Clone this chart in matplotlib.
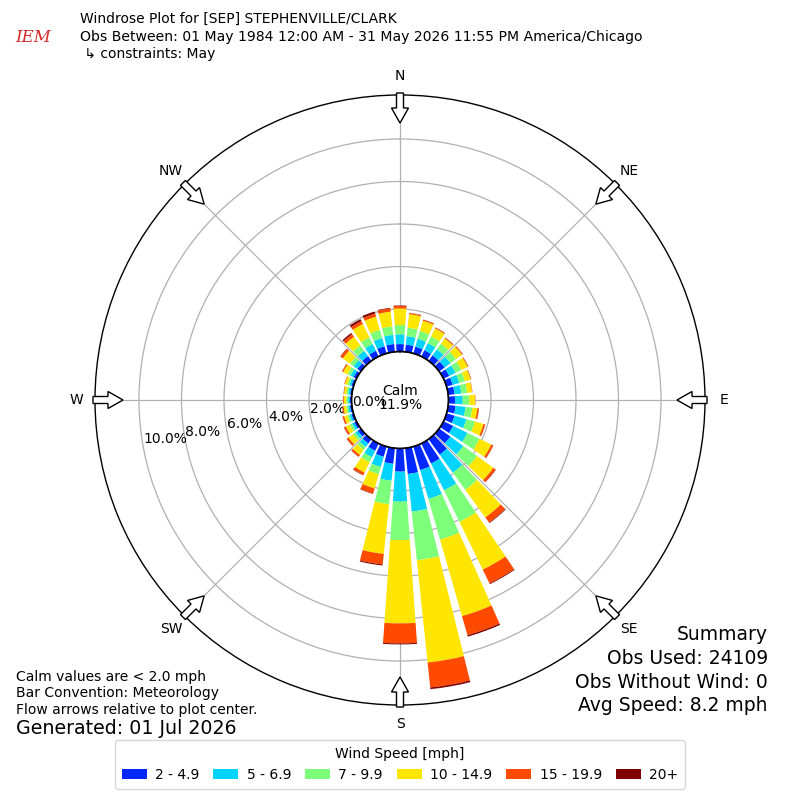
import numpy as np
import matplotlib.pyplot as plt
from matplotlib.patches import FancyArrow, Patch

# wind directions (deg, meteorological) and speed bins
directions = np.arange(0, 360, 10)
speed_bins = ['2 - 4.9', '5 - 6.9', '7 - 9.9', '10 - 14.9', '15 - 19.9', '20+']
bin_colors = ['#0028ff', '#00d4ff', '#7cff79', '#ffe600', '#ff4a00', '#800000']

# frequency (%) per direction for each speed bin
freq_2_5 = [0.35, 0.34, 0.33, 0.33, 0.32, 0.32, 0.30, 0.30, 0.30, 0.31, 0.35, 0.39,
            0.50, 0.65, 0.90, 1.05, 1.15, 1.22, 1.09, 0.74, 0.50, 0.38, 0.25, 0.18,
            0.12, 0.10, 0.09, 0.08, 0.08, 0.10, 0.15, 0.20, 0.28, 0.30, 0.35, 0.37]
freq_5_7 = [0.46, 0.40, 0.39, 0.37, 0.35, 0.34, 0.33, 0.32, 0.32, 0.36, 0.47, 0.58,
            0.75, 0.75, 1.05, 1.40, 1.41, 1.78, 1.41, 0.80, 0.50, 0.34, 0.20, 0.14,
            0.12, 0.10, 0.09, 0.08, 0.09, 0.10, 0.17, 0.22, 0.30, 0.35, 0.40, 0.43]
freq_7_10 = [0.44, 0.40, 0.38, 0.35, 0.33, 0.32, 0.30, 0.28, 0.28, 0.31, 0.32, 0.42,
             0.63, 0.80, 1.00, 1.65, 1.99, 2.30, 1.81, 1.11, 0.35, 0.26, 0.17, 0.13,
             0.12, 0.10, 0.09, 0.08, 0.09, 0.10, 0.15, 0.20, 0.32, 0.35, 0.40, 0.40]
freq_10_15 = [0.78, 0.64, 0.50, 0.42, 0.30, 0.35, 0.34, 0.28, 0.23, 0.27, 0.24, 0.42,
              0.62, 0.95, 1.60, 2.50, 3.75, 4.84, 3.92, 2.35, 0.70, 0.54, 0.30, 0.27,
              0.20, 0.16, 0.13, 0.12, 0.11, 0.12, 0.23, 0.43, 0.50, 0.70, 0.65, 0.70]
freq_15_20 = [0.12, 0.05, 0.05, 0.04, 0.04, 0.04, 0.03, 0.02, 0.02, 0.02, 0.07, 0.08,
              0.10, 0.13, 0.30, 0.72, 0.93, 1.18, 0.94, 0.50, 0.25, 0.13, 0.10, 0.10,
              0.09, 0.07, 0.05, 0.04, 0.03, 0.03, 0.05, 0.13, 0.15, 0.15, 0.15, 0.15]
freq_20p = [0.02, 0.01, 0.01, 0.01, 0.01, 0.01, 0.01, 0.01, 0.00, 0.00, 0.01, 0.01,
            0.01, 0.02, 0.03, 0.04, 0.07, 0.08, 0.05, 0.05, 0.02, 0.02, 0.01, 0.01,
            0.01, 0.01, 0.01, 0.00, 0.00, 0.00, 0.01, 0.02, 0.07, 0.10, 0.10, 0.03]

ring_values = [0, 2, 4, 6, 8, 10]
compass = ['N', 'NE', 'E', 'SE', 'S', 'SW', 'W', 'NW']
calm_pct = 11.9

series = [freq_2_5, freq_5_7, freq_7_10, freq_10_15, freq_15_20, freq_20p]

fig = plt.figure(figsize=(8, 8), dpi=100)
ax = fig.add_axes([0.11875, 0.11875, 0.7625, 0.7625], projection='polar')
ax.set_theta_zero_location('N')
ax.set_theta_direction(-1)
ax.set_rorigin(-2.28)
ax.set_ylim(0, 12.07)
ax.set_axisbelow(True)

theta = np.deg2rad(directions)
bottom = np.zeros(len(directions))
for vals, col in zip(series, bin_colors):
    vals = np.array(vals)
    ax.bar(theta, vals, width=np.deg2rad(8), bottom=bottom, color=col,
           edgecolor='none', zorder=2)
    bottom += vals

# calm hole outline
tt = np.linspace(0, 2 * np.pi, 300)
ax.plot(tt, np.zeros_like(tt), color='k', lw=1.2, clip_on=False, zorder=3)

ax.set_xticks(np.deg2rad(np.arange(0, 360, 45)))
ax.set_xticklabels([])
ax.set_yticks(ring_values)
ax.set_yticklabels(['%.1f%%' % v for v in ring_values], fontsize=10)
ax.set_rlabel_position(259.8)
ax.grid(True, color='#b0b0b0', lw=0.9)
ax.spines['polar'].set_linewidth(1.0)

fig.text(0.5, 0.5025, 'Calm\n%.1f%%' % calm_pct, ha='center', va='center',
         fontsize=10, linespacing=1.0)

# overlay for direction arrows and labels (pixel coordinates)
ov = fig.add_axes([0, 0, 1, 1])
ov.set_xlim(0, 800)
ov.set_ylim(800, 0)
ov.axis('off')
cx, cy, rad = 400, 400, 305
for i, name in enumerate(compass):
    b = np.deg2rad(i * 45)
    ux, uy = np.sin(b), -np.cos(b)
    ov.add_patch(FancyArrow(cx + (rad + 2) * ux, cy + (rad + 2) * uy,
                            -30 * ux, -30 * uy, width=7, head_width=17,
                            head_length=15, length_includes_head=True,
                            fc='white', ec='black', lw=1, zorder=5))
    ov.text(cx + 324 * ux, cy + 324 * uy, name, ha='center', va='center', fontsize=10)

# header
fig.text(0.019, 1 - 38 / 800, 'IEM', color='#d62728', fontsize=12, style='italic',
         family='serif', ha='left', va='center')
fig.text(0.1, 1 - 19 / 800, 'Windrose Plot for [SEP] STEPHENVILLE/CLARK', fontsize=10, va='center')
fig.text(0.1, 1 - 37 / 800, 'Obs Between: 01 May 1984 12:00 AM - 31 May 2026 11:55 PM America/Chicago',
         fontsize=10.1, va='center')
fig.text(0.1, 1 - 54 / 800, ' \u21b3 constraints: May', fontsize=10, va='center')

# summary
summary = ['Summary', 'Obs Used: 24109', 'Obs Without Wind: 0', 'Avg Speed: 8.2 mph']
for k, line in enumerate(summary):
    fig.text(768 / 800, 1 - (635 + 23.5 * k) / 800, line, ha='right', va='center', fontsize=13.5)

notes = ['Calm values are < 2.0 mph', 'Bar Convention: Meteorology',
         'Flow arrows relative to plot center.']
for k, line in enumerate(notes):
    fig.text(16 / 800, 1 - (677 + 16.5 * k) / 800, line, ha='left', va='center', fontsize=10)
fig.text(16 / 800, 1 - 728 / 800, 'Generated: 01 Jul 2026', ha='left', va='center', fontsize=13.7)

handles = [Patch(facecolor=c) for c in bin_colors]
fig.legend(handles, speed_bins, loc='lower center', bbox_to_anchor=(0.5, 0.005), ncol=6,
           title='Wind Speed [mph]', fontsize=10, title_fontsize=10,
           handlelength=1.8, handleheight=0.7, columnspacing=1.0,
           handletextpad=0.6, borderpad=0.5)

plt.savefig('out.png', dpi=100)
